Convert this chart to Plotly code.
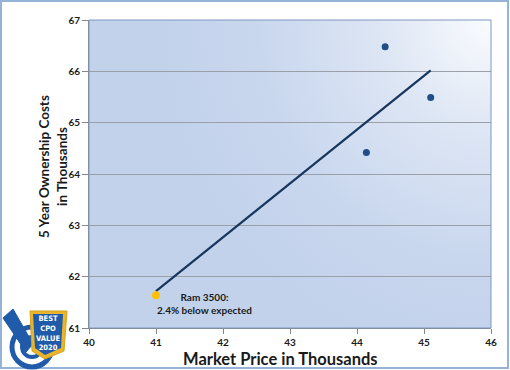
import plotly.graph_objects as go

# ---- data ----
trucks_price = [44.42, 45.10, 44.14]
trucks_cost = [66.48, 65.49, 64.42]
ram_price = [41.0]
ram_cost = [61.64]
trend_price = [41.0, 45.10]
trend_cost = [61.72, 66.02]
ram_label = "Ram 3500:<br>2.4% below expected"
x_title = "Market Price in Thousands"
y_title = "5 Year Ownership Costs<br>in Thousands"

W, H = 510, 370
L, R, T, B = 89, 19, 20, 42
PW, PH = W - L - R, H - T - B


def px(x):
    return (x - L) / PW


def py(y):
    return (H - B - y) / PH


def path(points):
    return "M " + " L ".join(f"{px(a)} {py(b)}" for a, b in points) + " Z"


FONT = "Lato"
BLUE = "#1F5BA8"

fig = go.Figure()
fig.add_trace(go.Scatter(x=trend_price, y=trend_cost, mode="lines",
                         line=dict(color="#17365D", width=2.2), hoverinfo="skip"))
fig.add_trace(go.Scatter(x=trucks_price, y=trucks_cost, mode="markers",
                         marker=dict(color="#1F4E88", size=7)))
fig.add_trace(go.Scatter(x=ram_price, y=ram_cost, mode="markers",
                         marker=dict(color="#FFC000", size=8)))

svg = ("data:image/svg+xml;utf8,<svg xmlns='http://www.w3.org/2000/svg' width='400' height='300' "
       "preserveAspectRatio='none' viewBox='0 0 400 300'><defs>"
       "<radialGradient id='g' cx='400' cy='0' r='330' gradientUnits='userSpaceOnUse'>"
       "<stop offset='0' stop-color='%23FAFCFE'/><stop offset='0.35' stop-color='%23DCE5F4'/>"
       "<stop offset='0.7' stop-color='%23C9D7EE'/><stop offset='1' stop-color='%23C2D2EB'/>"
       "</radialGradient></defs><rect width='400' height='300' fill='url(%23g)'/></svg>")

fig.add_layout_image(dict(source=svg, xref="paper", yref="paper", x=0, y=1,
                          sizex=1, sizey=1, sizing="stretch", layer="below",
                          xanchor="left", yanchor="top"))

shapes = [
    # outer frame
    dict(type="rect", xref="paper", yref="paper", x0=px(1), x1=px(508), y0=py(1), y1=py(368),
         line=dict(color="#95B3D7", width=2), fillcolor="rgba(0,0,0,0)", layer="below"),
    # plot outline (top/right)
    dict(type="rect", xref="paper", yref="paper", x0=0, x1=1, y0=0, y1=1,
         line=dict(color="#7F97C0", width=1), fillcolor="rgba(0,0,0,0)", layer="above"),
    # logo: blue rings
    dict(type="circle", xref="paper", yref="paper", x0=px(12), x1=px(52), y0=py(367), y1=py(327),
         line=dict(color=BLUE, width=5), fillcolor="rgba(0,0,0,0)"),
    dict(type="circle", xref="paper", yref="paper", x0=px(22), x1=px(42), y0=py(357), y1=py(337),
         line=dict(color=BLUE, width=4), fillcolor="rgba(0,0,0,0)"),
    # logo: V check
    dict(type="path", xref="paper", yref="paper",
         path=path([(3, 318), (13, 309), (33, 344), (26, 352)]),
         line=dict(color=BLUE, width=1), fillcolor=BLUE),
    # logo: gold badge
    dict(type="path", xref="paper", yref="paper",
         path=path([(30, 311), (67, 311), (64, 351), (45, 359), (32, 351)]),
         line=dict(color="#D8A21C", width=1), fillcolor="#E8B52C"),
    dict(type="path", xref="paper", yref="paper",
         path=path([(33, 314), (63, 314), (61, 348), (45, 355), (35, 348)]),
         line=dict(width=0), fillcolor=BLUE),
]

annotations = [
    dict(x=ram_price[0], y=ram_cost[0], xref="x", yref="y", text=ram_label, showarrow=False,
         xanchor="center", yanchor="middle", xshift=48, yshift=-8, align="center",
         font=dict(family=FONT, size=10, color="#1a1a1a", weight="bold")),
    dict(x=px(280), y=py(358.5), xref="paper", yref="paper", text=f"<b>{x_title}</b>",
         showarrow=False, xanchor="center", yanchor="middle",
         font=dict(family=FONT, size=16.5, color="#1a1a1a")),
    dict(x=px(53), y=py(167), xref="paper", yref="paper", text=f"<b>{y_title}</b>",
         showarrow=False, xanchor="center", yanchor="middle", textangle=-90,
         font=dict(family=FONT, size=13.5, color="#1a1a1a")),
    dict(x=px(48), y=py(333), xref="paper", yref="paper",
         text="<b>BEST<br>CPO<br>VALUE<br>2020</b>", showarrow=False,
         xanchor="center", yanchor="middle",
         font=dict(family="DejaVu Sans Condensed", size=7.5, color="white")),
]

fig.update_layout(
    width=W, height=H,
    margin=dict(l=L, r=R, t=T, b=B),
    paper_bgcolor="white", plot_bgcolor="#C8D7EE",
    showlegend=False,
    shapes=shapes, annotations=annotations,
    font=dict(family=FONT, size=10, color="#1a1a1a"),
    xaxis=dict(range=[40, 46], dtick=1, showgrid=False, zeroline=False,
               showline=True, linecolor="#868686", linewidth=1,
               ticks="outside", ticklen=5, tickcolor="#868686",
               tickfont=dict(family=FONT, size=10, color="#1a1a1a", weight="bold")),
    yaxis=dict(range=[61, 67], dtick=1, showgrid=True, gridcolor="#9A9FA8", gridwidth=1,
               zeroline=False, showline=True, linecolor="#868686", linewidth=1,
               ticks="outside", ticklen=6, tickcolor="#868686",
               tickfont=dict(family=FONT, size=10, color="#1a1a1a", weight="bold")),
)

fig.write_html("out.html", config={"displayModeBar": False},
               post_script="document.body.style.margin='0';document.body.style.overflow='hidden';")
